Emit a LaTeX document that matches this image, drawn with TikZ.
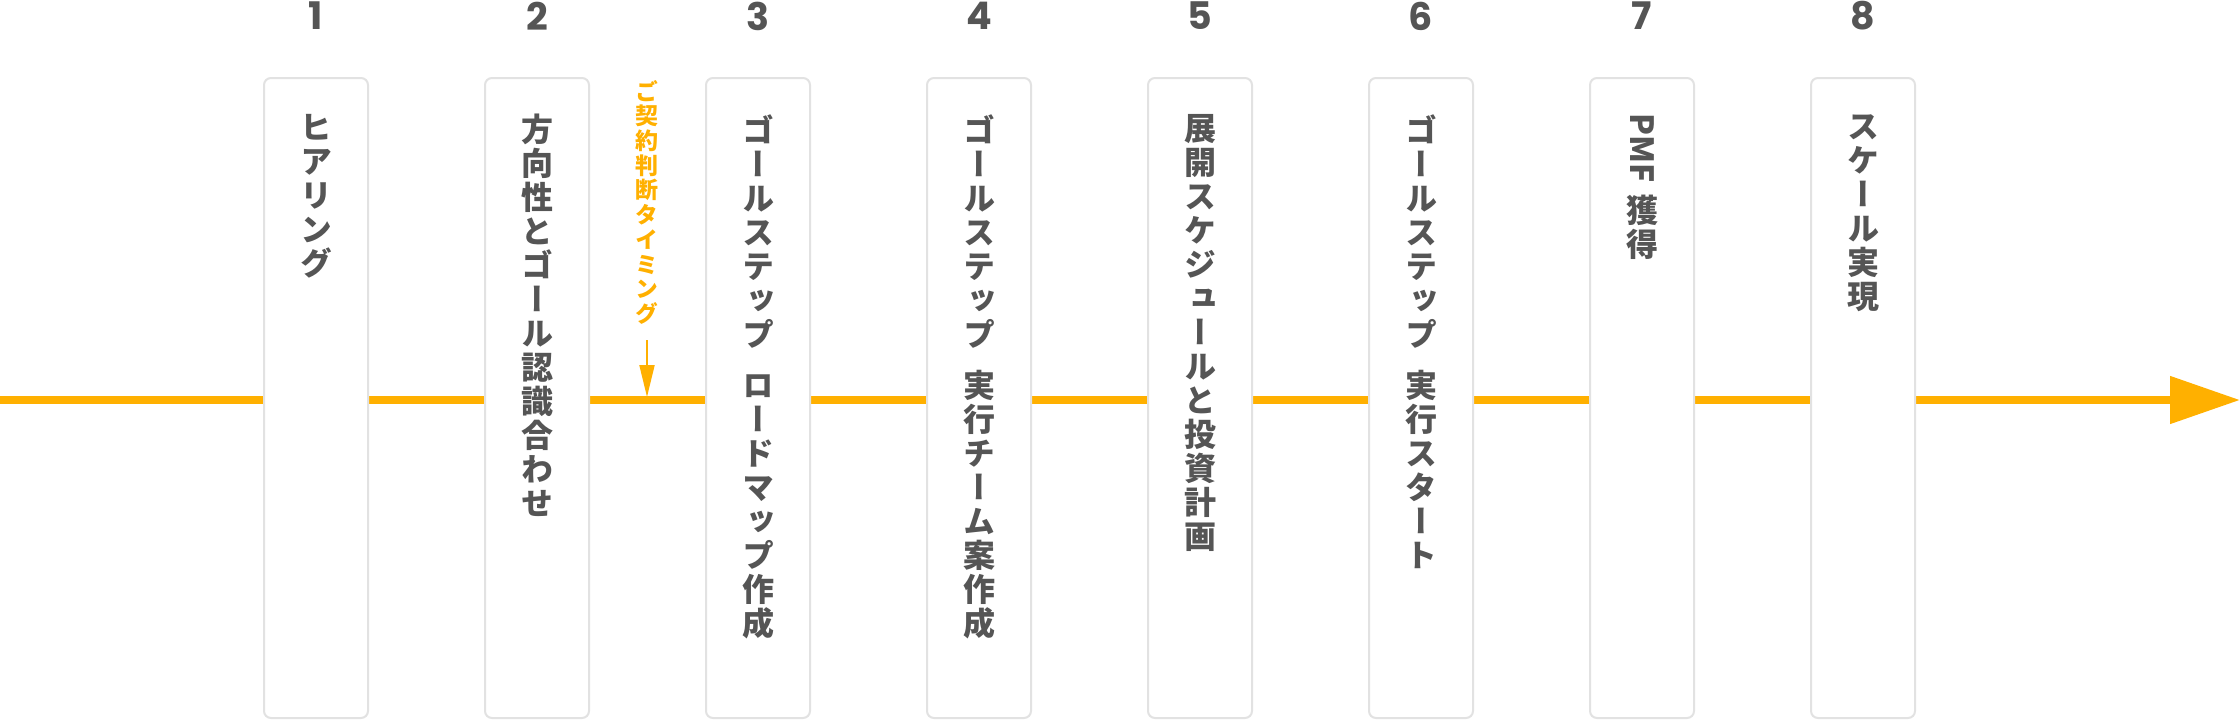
\documentclass[tikz,border=0pt]{standalone}
\usepackage{fontspec}
\usetikzlibrary{arrows.meta}
\newfontfamily\vjp[RawFeature=+vert]{Noto Sans CJK JP}
\newfontfamily\numfont{Poppins}
\definecolor{tlorange}{HTML}{FFB000}
\definecolor{txtgray}{HTML}{555555}
\definecolor{boxgray}{HTML}{E2E2E2}
\begin{document}
\begin{tikzpicture}[x=1pt,y=-1pt,
  stepbox/.style={draw=boxgray, line width=2pt, fill=white, rounded corners=7pt,
    minimum width=104pt, minimum height=640pt, inner sep=0pt},
  vlabel/.style={font=\vjp\bfseries\fontsize{32}{34}\selectfont, text=txtgray,
    align=center, anchor=north, inner sep=0pt},
  ctlabel/.style={font=\vjp\bfseries\fontsize{23}{24.7}\selectfont, text=tlorange,
    align=center, anchor=north, inner sep=0pt},
  numlabel/.style={font=\numfont\bfseries\fontsize{38}{38}\selectfont, text=txtgray, inner sep=0pt},
  timeline/.style={tlorange, line width=8pt, -{Triangle[length=70pt,width=46pt]}},
  ctarrow/.style={tlorange, line width=2pt, -{Triangle[length=32pt,width=15pt]}}
]
\useasboundingbox[fill=white] (0,0) rectangle (2240,720);
\coordinate (tlstart) at (0,400);
\coordinate (tlend) at (2240,400);
\draw[timeline] (tlstart) -- (tlend);
\foreach \i in {1,...,8}{
  \node[stepbox] (b\i) at ({316+221*(\i-1)},398) {};
  \node[numlabel] (n\i) at ({316+221*(\i-1)},16) {\i};
}
\node[vlabel] (t1) at (316,114) {ヒ\\ア\\リ\\ン\\グ};
\node[vlabel] (t2) at (537,114) {方\\向\\性\\と\\ゴ\\ー\\ル\\認\\識\\合\\わ\\せ};
\node[vlabel] (t3) at (758,114) {ゴ\\ー\\ル\\ス\\テ\\ッ\\プ\\[17pt]ロ\\ー\\ド\\マ\\ッ\\プ\\作\\成};
\node[vlabel] (t4) at (979,114) {ゴ\\ー\\ル\\ス\\テ\\ッ\\プ\\[17pt]実\\行\\チ\\ー\\ム\\案\\作\\成};
\node[vlabel] (t5) at (1200,114) {展\\開\\ス\\ケ\\ジ\\ュ\\ー\\ル\\と\\投\\資\\計\\画};
\node[vlabel] (t6) at (1421,114) {ゴ\\ー\\ル\\ス\\テ\\ッ\\プ\\[17pt]実\\行\\ス\\タ\\ー\\ト};
\node[vlabel, rotate=-90, anchor=west] (t7a) at (1642,113) {PMF};
\node[vlabel] (t7b) at (1642,195) {獲\\得};
\node[vlabel] (t8) at (1863,114) {ス\\ケ\\ー\\ル\\実\\現};
\node[ctlabel] (ct) at (647,80) {ご\\契\\約\\判\\断\\タ\\イ\\ミ\\ン\\グ};
\coordinate (cttop) at (647,340);
\coordinate (ctend) at (647,397);
\draw[ctarrow] (cttop) -- (ctend);
\end{tikzpicture}
\end{document}
